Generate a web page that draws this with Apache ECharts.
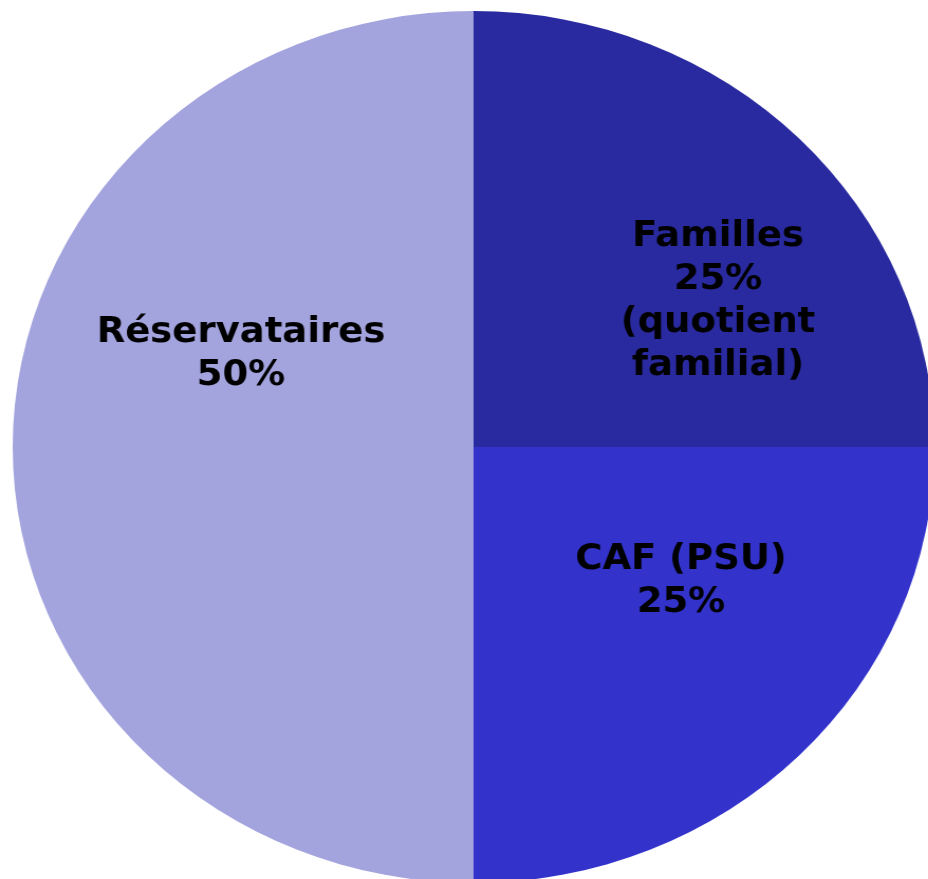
<!DOCTYPE html>
<html>
<head>
<meta charset="utf-8">
<script src="https://cdn.jsdelivr.net/npm/echarts@6/dist/echarts.min.js"></script>
<style>
  html, body { margin: 0; padding: 0; background: #fff; overflow: hidden; }
  /* the source picture is slightly stretched horizontally */
  #main { width: 878px; height: 879px; transform: scaleX(1.057); transform-origin: 0 0; }
</style>
</head>
<body>
<div id="main"></div>
<script>
const categories = ['Familles\n25%\n(quotient\nfamilial)', 'CAF (PSU)\n25%', 'Réservataires\n50%'];
const values = [25, 25, 50];
const colors = ['#2a2aa0', '#3333cc', '#a3a3de'];
// label nudges from the default inside position
const labelShift = [[75, 11], [40, -22], [1, -93]];

const chart = echarts.init(document.getElementById('main'));
chart.setOption({
  animation: false,
  series: [{
    type: 'pie',
    center: [448, 447],
    radius: 436,
    startAngle: 90,
    clockwise: true,
    data: categories.map((name, i) => ({ name: name, value: values[i], itemStyle: { color: colors[i] } })),
    label: {
      position: 'inside',
      formatter: '{b}',
      color: '#000',
      fontFamily: 'DejaVu Sans',
      fontWeight: 'bold',
      fontSize: 35,
      lineHeight: 43,
      align: 'center'
    },
    labelLine: { show: false },
    labelLayout: function (p) {
      return { dx: labelShift[p.dataIndex][0], dy: labelShift[p.dataIndex][1] };
    },
    emphasis: { disabled: true }
  }]
});
</script>
</body>
</html>
